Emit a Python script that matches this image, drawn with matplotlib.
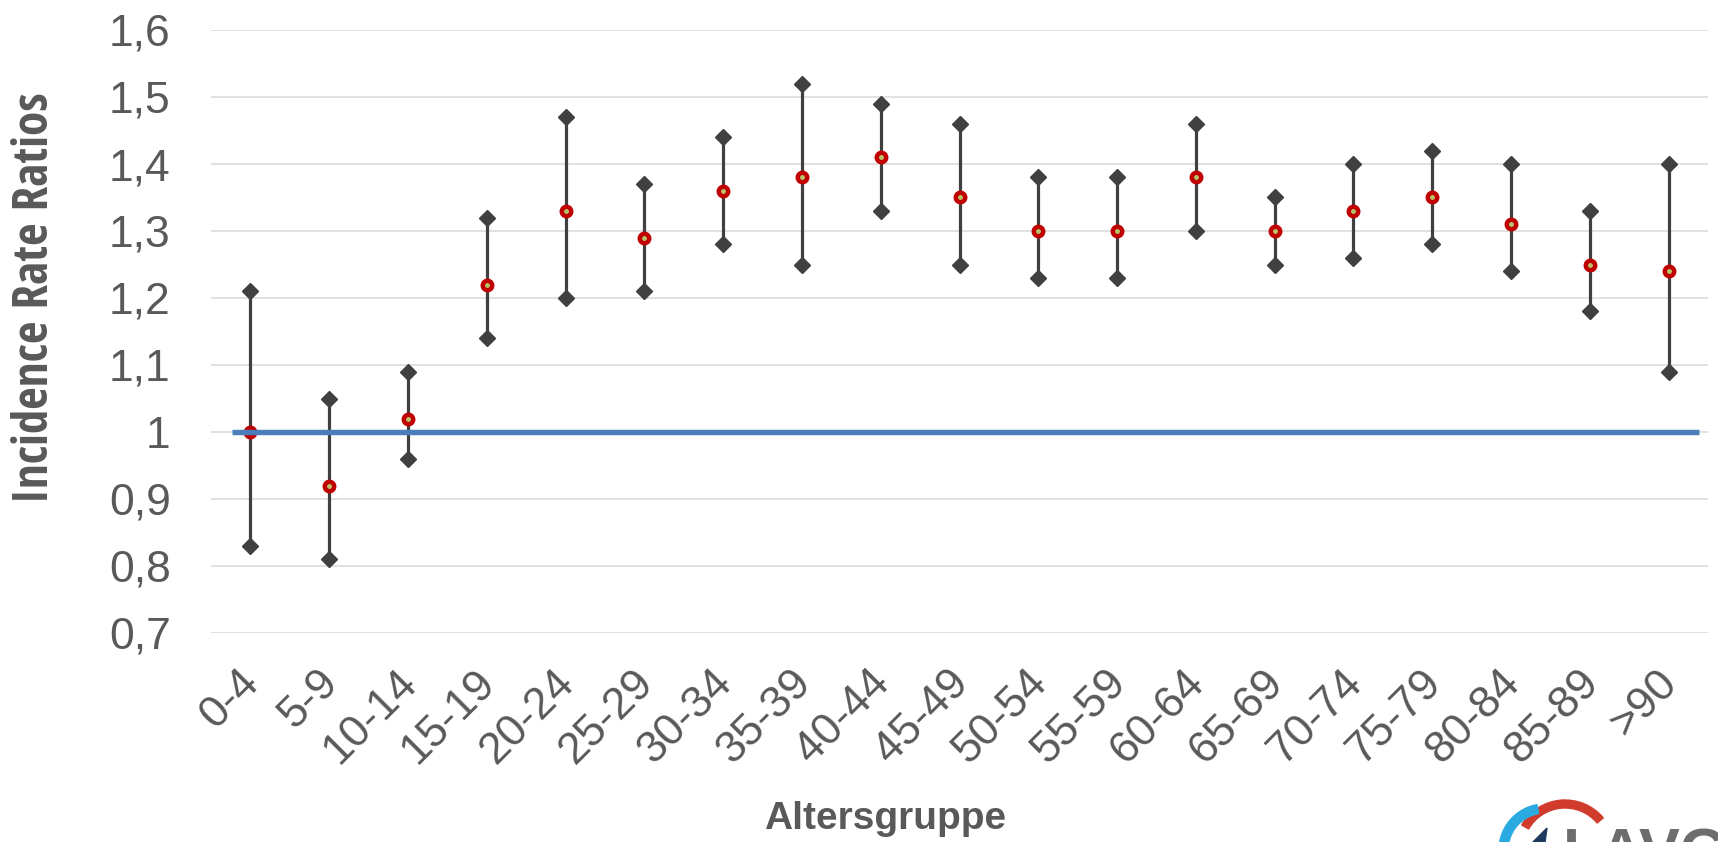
import matplotlib
matplotlib.use("Agg")
import matplotlib.pyplot as plt
from matplotlib import patches, font_manager
from matplotlib.ticker import FixedLocator
from matplotlib.transforms import ScaledTranslation

categories = ["0-4", "5-9", "10-14", "15-19", "20-24", "25-29", "30-34", "35-39",
              "40-44", "45-49", "50-54", "55-59", "60-64", "65-69", "70-74", "75-79",
              "80-84", "85-89", ">90"]
irr   = [1.00, 0.92, 1.02, 1.22, 1.33, 1.29, 1.36, 1.38, 1.41, 1.35, 1.30, 1.30,
         1.38, 1.30, 1.33, 1.35, 1.31, 1.25, 1.24]
lower = [0.83, 0.81, 0.96, 1.14, 1.20, 1.21, 1.28, 1.25, 1.33, 1.25, 1.23, 1.23,
         1.30, 1.25, 1.26, 1.28, 1.24, 1.18, 1.09]
upper = [1.21, 1.05, 1.09, 1.32, 1.47, 1.37, 1.44, 1.52, 1.49, 1.46, 1.38, 1.38,
         1.46, 1.35, 1.40, 1.42, 1.40, 1.33, 1.40]
yticks = [0.7, 0.8, 0.9, 1.0, 1.1, 1.2, 1.3, 1.4, 1.5, 1.6]
ytick_labels = ["0,7", "0,8", "0,9", "1", "1,1", "1,2", "1,3", "1,4", "1,5", "1,6"]
reference = 1.0


def find_condensed_bold():
    best = None
    for f in font_manager.fontManager.ttflist:
        name = f.name.lower()
        fname = f.fname.lower()
        condensed = (str(f.stretch) in ("condensed", "semi-condensed", "extra-condensed")
                     or "narrow" in name or "condensed" in name
                     or "narrow" in fname or "condensed" in fname)
        try:
            w = int(f.weight)
        except (TypeError, ValueError):
            w = 700 if "bold" in str(f.weight) else 400
        bold = w >= 600 or "bold" in fname
        italic = f.style != "normal" or "italic" in fname or "oblique" in fname
        if condensed and bold and not italic:
            score = 0
            if "liberation" in name:
                score = 3
            elif "roboto" in name or "open sans" in name:
                score = 2
            elif "dejavu" in name:
                score = 1
            if best is None or score > best[0]:
                best = (score, f.fname)
    return best[1] if best else None


W, H = 1718, 842
fig = plt.figure(figsize=(W / 100, H / 100), dpi=100)
fig.patch.set_facecolor("white")

left, right, top, bottom = 211, 1708, 30, 633
ax = fig.add_axes([left / W, 1 - bottom / H, (right - left) / W, (bottom - top) / H])

x = list(range(len(categories)))
grey = "#595959"
dark = "#404040"

for xi, lo, hi in zip(x, lower, upper):
    ax.plot([xi, xi], [lo, hi], color=dark, lw=2.3, zorder=3, solid_capstyle="butt")
ax.plot(x, lower, ls="none", marker="D", ms=7.8, color=dark, zorder=4)
ax.plot(x, upper, ls="none", marker="D", ms=7.8, color=dark, zorder=4)
ax.plot(x, irr, ls="none", marker="o", ms=6.8, mew=3.2, mec="#C00000",
        mfc="#B8C46A", zorder=5)

ax.axhline(reference, xmin=0.014, xmax=0.994, color="#4A7DBA", lw=3.9, zorder=6,
           solid_capstyle="butt")

ax.set_xlim(-0.5, len(categories) - 0.5)
ax.set_ylim(0.7, 1.6)
ax.yaxis.set_major_locator(FixedLocator(yticks))
ax.set_yticklabels(ytick_labels)
ax.set_xticks(x)
ax.set_xticklabels(categories, rotation=45, ha="right", va="top",
                   rotation_mode="anchor")
ax.grid(axis="y", color="#D9D9D9", lw=1.1, zorder=0)
ax.set_axisbelow(True)
for s in ax.spines.values():
    s.set_visible(False)
ax.tick_params(axis="both", length=0, colors=grey, labelsize=32)
ax.tick_params(axis="y", pad=29)
ax.tick_params(axis="x", pad=21)
shift = ScaledTranslation(-12 / 100, 0, fig.dpi_scale_trans)
for lab in ax.get_xticklabels():
    lab.set_fontfamily(["Liberation Sans", "DejaVu Sans"])
    lab.set_transform(lab.get_transform() + shift)
for lab in ax.get_yticklabels():
    lab.set_fontfamily(["Liberation Sans", "DejaVu Sans"])

cond = find_condensed_bold()
if cond:
    fp = font_manager.FontProperties(fname=cond, size=34)
else:
    fp = font_manager.FontProperties(family=["Liberation Sans", "DejaVu Sans"],
                                     weight="bold", size=28.6)
ylab = fig.text(36 / W, 1 - 298 / H, "Incidence Rate Ratios", rotation=90, ha="center",
                va="center", color=grey, fontproperties=fp)
# match the reference label length (~411 px)
fig.canvas.draw()
bb = ylab.get_window_extent()
if bb.height > 0:
    fp.set_size(fp.get_size() * 411 / bb.height)
    ylab.set_fontproperties(fp)

fig.text(885 / W, 1 - 819 / H, "Altersgruppe", ha="center", va="center",
         fontsize=28, fontweight="bold", color=grey,
         family=["Liberation Sans", "DejaVu Sans"])

# partial logo at bottom right
lax = fig.add_axes([0, 0, 1, 1], zorder=-1)
lax.set_xlim(0, W)
lax.set_ylim(0, H)
lax.axis("off")
lax.add_patch(patches.Wedge((1565, -8), 50, 40, 150, width=8, color="#D13B2C"))
lax.add_patch(patches.Wedge((1545, -8), 46, 100, 185, width=9, color="#29ABE2"))
lax.add_patch(patches.Polygon([(1533, 0), (1547, 14), (1545, 0)], color="#1F3A5F"))
fig.text(1563 / W, 1 - 872 / H, "LAVG", ha="left", va="baseline", fontsize=44,
         fontweight="bold", color="#6D6D6D", family=["Liberation Sans", "DejaVu Sans"])

fig.savefig("out.png", dpi=100, facecolor="white")
